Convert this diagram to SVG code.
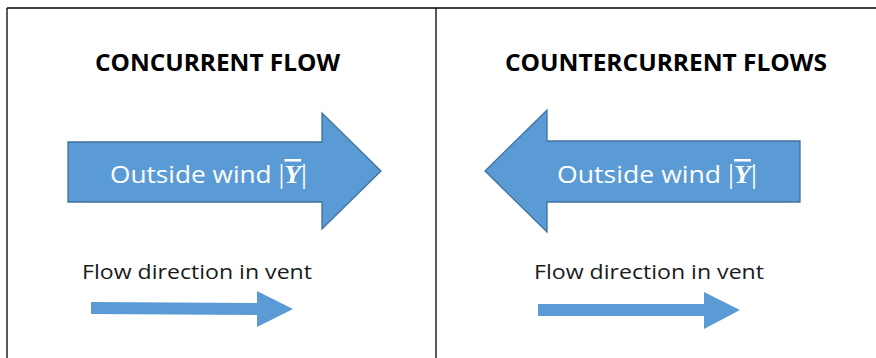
<svg xmlns="http://www.w3.org/2000/svg" width="876" height="358" viewBox="0 0 876 358">
<style>
.frame{stroke:#000;stroke-width:1.3;fill:none}
.big{fill:#5B9BD5;stroke:#41719C;stroke-width:1.3}
.small{fill:#5B9BD5}
.title{font-family:"Open Sans","Liberation Sans",sans-serif;font-weight:bold;font-size:23px;fill:#000}
.wind{font-family:"Open Sans","Liberation Sans",sans-serif;font-size:24px;fill:#fff}
.bar{font-family:"Liberation Serif",serif;font-size:27px}
.math{font-family:"Liberation Serif",serif;font-style:italic;font-weight:bold;font-size:25px}
.flow{font-family:"Open Sans","Liberation Sans",sans-serif;font-size:20.5px;fill:#1a1a1a}
</style>
<rect width="876" height="358" fill="#fff"/>
<g id="frame">
<line class="frame" x1="7" y1="8" x2="876" y2="8"/>
<line class="frame" x1="7" y1="8" x2="7" y2="358"/>
<line class="frame" x1="436" y1="8" x2="436" y2="358"/>
</g>
<g id="title-left"><text class="title" x="95" y="71" textLength="245" lengthAdjust="spacingAndGlyphs">CONCURRENT FLOW</text></g>
<g id="title-right"><text class="title" x="505" y="71" textLength="322" lengthAdjust="spacingAndGlyphs">COUNTERCURRENT FLOWS</text></g>
<g id="wind-left">
<polygon class="big" points="68,142 322,142 322,113 381,171 322,229 322,202 68,202"/>
<text class="wind" x="110" y="183" textLength="197" lengthAdjust="spacingAndGlyphs">Outside wind <tspan class="bar">|</tspan><tspan class="math" text-decoration="overline">Y</tspan><tspan class="bar">|</tspan></text>
</g>
<g id="wind-right">
<polygon class="big" points="800,141 547,141 547,110 485,171 547,232 547,202 800,202"/>
<text class="wind" x="557" y="183" textLength="200" lengthAdjust="spacingAndGlyphs">Outside wind <tspan class="bar">|</tspan><tspan class="math" text-decoration="overline">Y</tspan><tspan class="bar">|</tspan></text>
</g>
<g id="flow-left">
<text class="flow" x="82" y="279" textLength="230" lengthAdjust="spacingAndGlyphs">Flow direction in vent</text>
</g>
<g id="flow-right">
<text class="flow" x="534" y="279" textLength="230" lengthAdjust="spacingAndGlyphs">Flow direction in vent</text>
</g>
<g id="connectors">
<polygon class="small" points="91,302 257,303 257,291 293,309 257,327 257,315 91,314"/>
<polygon class="small" points="538,304 704,304 704,292 740,310 704,329 704,316 538,316"/>
</g>
</svg>
